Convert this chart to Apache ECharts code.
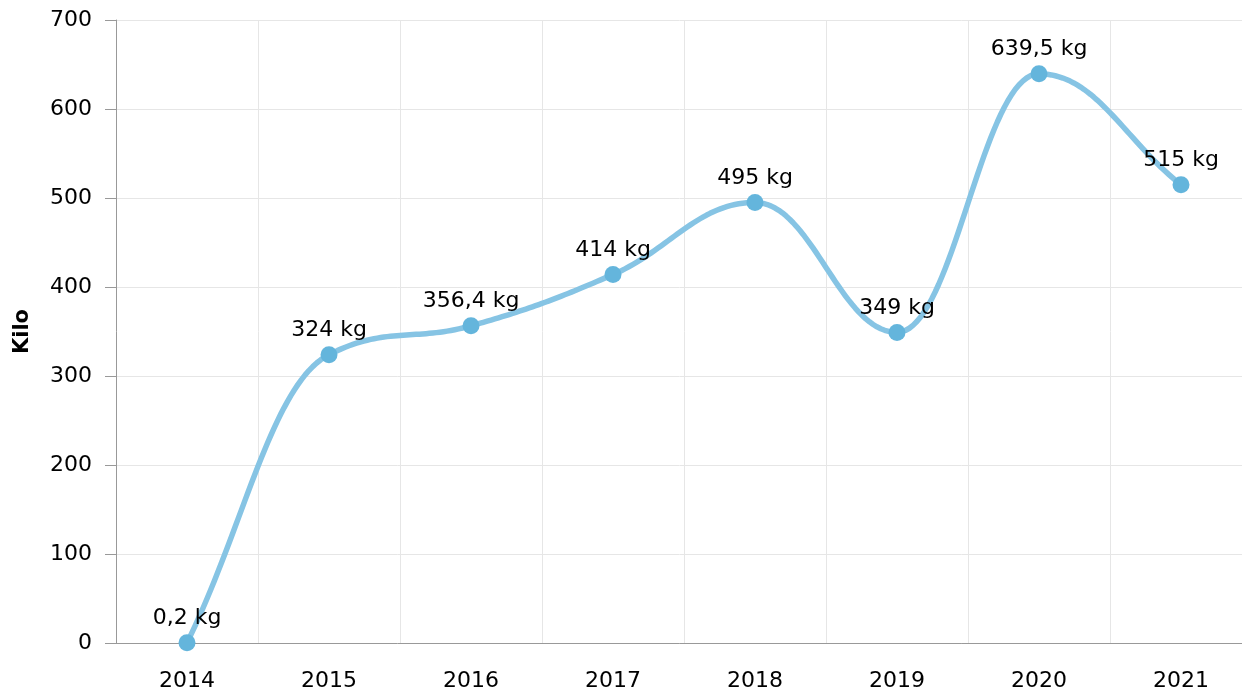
<!DOCTYPE html>
<html>
<head>
<meta charset="utf-8">
<script src="https://cdn.jsdelivr.net/npm/echarts@6/dist/echarts.min.js"></script>
<style>
    html, body { margin: 0; padding: 0; background: #fff; }
    #chart { width: 1242px; height: 690px; }
</style>
</head>
<body>
<div id="chart"></div>
<script>
// data
var years = ['2014', '2015', '2016', '2017', '2018', '2019', '2020', '2021'];
var kilo = [0.2, 324, 356.4, 414, 495, 349, 639.5, 515];
var yTicks = { min: 0, max: 700, interval: 100 };

var myChart = echarts.init(document.getElementById('chart'));
var font = 'DejaVu Sans, Verdana, sans-serif';

// spline through the points: control points at 0.4 of the gap,
// clamped so the curve does not make false extremes
function splinePoints (pts) {
    var smoothing = 1.5, denom = smoothing + 1;
    var n = pts.length;
    var left = [], right = [];
    for (var i = 0; i < n; i++) {
        var p = pts[i], last = pts[i - 1], next = pts[i + 1];
        if (!last) {
            // end point: handle along the first segment
            right[i] = [(smoothing * p[0] + next[0]) / denom, (smoothing * p[1] + next[1]) / denom];
            continue;
        }
        if (!next) {
            left[i] = [(smoothing * p[0] + last[0]) / denom, (smoothing * p[1] + last[1]) / denom];
            continue;
        }
        var lx = (smoothing * p[0] + last[0]) / denom;
        var ly = (smoothing * p[1] + last[1]) / denom;
        var rx = (smoothing * p[0] + next[0]) / denom;
        var ry = (smoothing * p[1] + next[1]) / denom;
        var corr = 0;
        if (rx !== lx) corr = ((ry - ly) * (rx - p[0])) / (rx - lx) + p[1] - ry;
        ly += corr; ry += corr;
        if (ly > last[1] && ly > p[1]) { ly = Math.max(last[1], p[1]); ry = 2 * p[1] - ly; }
        else if (ly < last[1] && ly < p[1]) { ly = Math.min(last[1], p[1]); ry = 2 * p[1] - ly; }
        if (ry > next[1] && ry > p[1]) { ry = Math.max(next[1], p[1]); ly = 2 * p[1] - ry; }
        else if (ry < next[1] && ry < p[1]) { ry = Math.min(next[1], p[1]); ly = 2 * p[1] - ry; }
        left[i] = [lx, ly];
        right[i] = [rx, ry];
    }
    var out = [pts[0]];
    var steps = 40;
    for (var k = 1; k < n; k++) {
        var a = pts[k - 1], c1 = right[k - 1], c2 = left[k], b = pts[k];
        for (var s = 1; s <= steps; s++) {
            var t = s / steps, u = 1 - t;
            out.push([
                u * u * u * a[0] + 3 * u * u * t * c1[0] + 3 * u * t * t * c2[0] + t * t * t * b[0],
                u * u * u * a[1] + 3 * u * u * t * c1[1] + 3 * u * t * t * c2[1] + t * t * t * b[1]
            ]);
        }
    }
    return out;
}

var option = {
    animation: false,
    grid: {
        left: 116,
        width: 1136,
        top: 20,
        bottom: 47,
        containLabel: false,
        outerBoundsMode: 'none'
    },
    xAxis: {
        type: 'category',
        data: years,
        boundaryGap: true,
        axisLine: { lineStyle: { color: '#999', width: 1 } },
        axisTick: { alignWithLabel: true, length: 10, lineStyle: { color: '#ccc' } },
        axisLabel: { color: '#000', fontSize: 22, fontFamily: font, margin: 27 },
        splitLine: { show: true, lineStyle: { color: '#e6e6e6' } }
    },
    yAxis: {
        type: 'value',
        min: yTicks.min,
        max: yTicks.max,
        interval: yTicks.interval,
        name: 'Kilo',
        nameLocation: 'middle',
        nameGap: 83,
        nameTextStyle: { color: '#000', fontSize: 21, fontWeight: 'bold', fontFamily: font },
        axisLine: { show: true, lineStyle: { color: '#999', width: 1 } },
        axisTick: { show: true, length: 11, lineStyle: { color: '#999' } },
        axisLabel: { color: '#000', fontSize: 22, fontFamily: font, margin: 24 },
        splitLine: { lineStyle: { color: '#e6e6e6' } }
    },
    series: [
        {
            // the curve
            type: 'custom',
            z: 2,
            silent: true,
            clip: false,
            data: kilo.map(function (v, i) { return [i, v]; }),
            encode: { x: 0, y: 1 },
            renderItem: function (params, api) {
                if (params.dataIndex !== 0) return null;
                var pts = kilo.map(function (v, i) { return api.coord([i, v]); });
                return {
                    type: 'polyline',
                    shape: { points: splinePoints(pts) },
                    style: { stroke: '#86c4e4', lineWidth: 5.5, fill: null, lineJoin: 'round', lineCap: 'round' }
                };
            }
        },
        {
            // markers and labels
            name: 'Kilo',
            type: 'line',
            z: 3,
            data: kilo,
            symbol: 'circle',
            symbolSize: 17,
            showAllSymbol: true,
            clip: false,
            lineStyle: { width: 0, opacity: 0 },
            itemStyle: { color: '#64b5dc' },
            label: {
                show: true,
                position: 'top',
                distance: 5,
                color: '#000',
                fontSize: 22,
                fontFamily: font,
                formatter: function (p) {
                    return String(p.value).replace('.', ',') + ' kg';
                }
            }
        }
    ]
};

option && myChart.setOption(option);
</script>
</body>
</html>
